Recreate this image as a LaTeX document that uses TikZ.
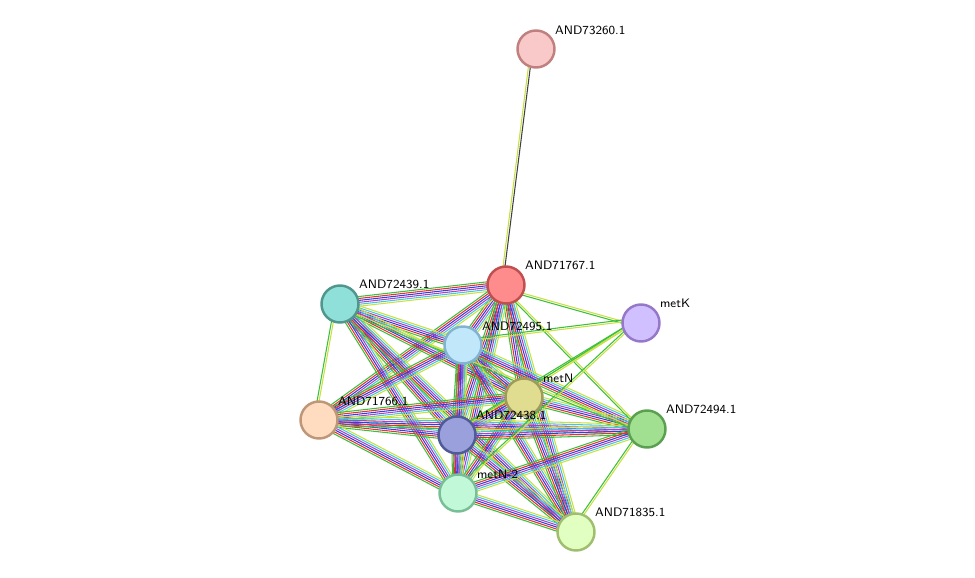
\documentclass[tikz,border=0pt]{standalone}
\usetikzlibrary{calc,backgrounds}
\definecolor{eGreen}{HTML}{3CBF3C}
\definecolor{eRed}{HTML}{E83030}
\definecolor{eBlue}{HTML}{3040E0}
\definecolor{ePurple}{HTML}{B040C0}
\definecolor{eCyan}{HTML}{40C8E0}
\definecolor{eYellow}{HTML}{C8E040}
\definecolor{eGray}{HTML}{404040}
\newcommand\bundle[3]{%
  \foreach \c [count=\i] in #3{%
    \pgfmathsetmacro\off{(\i-1)*1.1-3}%
    \draw[color=\c,line width=0.6pt] ($(#1)!\off pt!90:(#2)$) -- ($(#2)!\off pt!-90:(#1)$);}}
\newcommand\full{eGreen,eRed,eBlue,ePurple,eCyan,eYellow}
\newcommand\thin{eGreen,eYellow}
\newcommand\topc{eYellow,eGray}
\begin{document}
\begin{tikzpicture}[x=0.02cm,y=-0.02cm,
  prot/.style={circle,draw,line width=1.4pt,minimum size=0.74cm,inner sep=0pt},
  lab/.style={font=\sffamily\scriptsize,anchor=south west,inner sep=1pt}]
  \useasboundingbox (0,0) rectangle (975,578);

  \node[prot,fill={rgb,255:red,249;green,201;blue,201},draw={rgb,255:red,192;green,128;blue,128}] (p73260) at (536,49) {};
  \node[prot,fill={rgb,255:red,255;green,140;blue,140},draw={rgb,255:red,192;green,80;blue,80}] (p71767) at (506,285) {};
  \node[prot,fill={rgb,255:red,142;green,224;blue,216},draw={rgb,255:red,80;green,150;blue,140}] (p72439) at (340,304) {};
  \node[prot,fill={rgb,255:red,192;green,232;blue,250},draw={rgb,255:red,130;green,180;blue,210}] (p72495) at (463,345) {};
  \node[prot,fill={rgb,255:red,208;green,192;blue,255},draw={rgb,255:red,150;green,120;blue,200}] (metK) at (641,323) {};
  \node[prot,fill={rgb,255:red,224;green,220;blue,144},draw={rgb,255:red,160;green,155;blue,90}] (metN) at (524,397) {};
  \node[prot,fill={rgb,255:red,255;green,220;blue,192},draw={rgb,255:red,190;green,150;blue,120}] (p71766) at (319,420) {};
  \node[prot,fill={rgb,255:red,154;green,160;blue,220},draw={rgb,255:red,80;green,90;blue,150}] (p72438) at (457,435) {};
  \node[prot,fill={rgb,255:red,160;green,224;blue,144},draw={rgb,255:red,90;green,160;blue,80}] (p72494) at (647,429) {};
  \node[prot,fill={rgb,255:red,192;green,248;blue,216},draw={rgb,255:red,120;green,190;blue,150}] (metN2) at (458,493) {};
  \node[prot,fill={rgb,255:red,224;green,255;blue,192},draw={rgb,255:red,160;green,190;blue,110}] (p71835) at (576,532) {};

  \begin{scope}[on background layer]
    \bundle{p73260}{p71767}{\topc}
    \foreach \a/\b in {p71767/p72439,p71767/p72495,p71767/metN,p71767/p71766,p71767/p72438,
        p71767/metN2,p71767/p71835,p72439/p72495,p72439/metN,p72439/p72438,p72439/metN2,
        p72439/p71835,p72495/metN,p72495/p71766,p72495/p72438,p72495/p72494,p72495/metN2,
        p72495/p71835,metN/p71766,metN/p72438,metN/p72494,metN/metN2,metN/p71835,
        p71766/p72438,p71766/p72494,p71766/metN2,p72438/p72494,p72438/metN2,p72438/p71835,
        p72494/metN2,metN2/p71835}
      {\bundle{\a}{\b}{\full}}
    \foreach \a/\b in {p71767/metK,p71767/p72494,metK/p72495,metK/p72438,metK/metN,
        metK/metN2,p72439/p72494,p72494/p71835,p72439/p71766}
      {\bundle{\a}{\b}{\thin}}
  \end{scope}

  \node[lab] (l73260) at (553,37) {AND73260.1};
  \node[lab] (l71767) at (523,272) {AND71767.1};
  \node[lab] (l72439) at (357,291) {AND72439.1};
  \node[lab] (l72495) at (480,333) {AND72495.1};
  \node[lab] (lmetK) at (658,310) {metK};
  \node[lab] (lmetN) at (541,385) {metN};
  \node[lab] (l71766) at (336,408) {AND71766.1};
  \node[lab] (l72438) at (474,422) {AND72438.1};
  \node[lab] (l72494) at (664,416) {AND72494.1};
  \node[lab] (lmetN2) at (475,481) {metN-2};
  \node[lab] (l71835) at (593,519) {AND71835.1};
\end{tikzpicture}
\end{document}
